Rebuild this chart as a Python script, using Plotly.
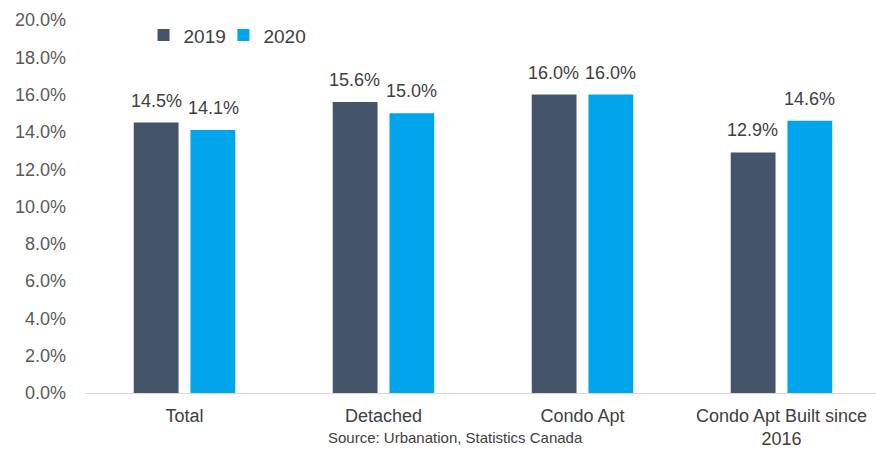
import plotly.graph_objects as go

categories = ["Total", "Detached", "Condo Apt", "Condo Apt Built since<br>2016"]
series_names = ["2019", "2020"]
values_2019 = [14.5, 15.6, 16.0, 12.9]
values_2020 = [14.1, 15.0, 16.0, 14.6]
tick_vals = [0, 2, 4, 6, 8, 10, 12, 14, 16, 18, 20]
tick_text = [f"{v:.1f}%" for v in tick_vals]

colors = ["#44546A", "#00A5EC"]
legend_ids = ["legend", "legend2"]
font_family = "Liberation Sans, Arial, sans-serif"
text_color = "#404040"

fig = go.Figure()
for name, vals, col, lg in zip(series_names, [values_2019, values_2020], colors, legend_ids):
    fig.add_trace(go.Bar(name=name, x=categories, y=vals, marker_color=col,
                         marker_line_width=0, legend=lg))

# value labels above each bar
for k, vals in enumerate([values_2019, values_2020]):
    shift = -28.5 if k == 0 else 28.5
    for c, v in zip(categories, vals):
        fig.add_annotation(x=c, y=v, text=f"{v:.1f}%", showarrow=False,
                           xshift=shift, yshift=10, yanchor="bottom",
                           font=dict(size=18, color=text_color, family=font_family))

fig.add_annotation(x=0.468, y=-0.148, xref="paper", yref="paper",
                   text="Source: Urbanation, Statistics Canada",
                   showarrow=False, yanchor="bottom",
                   font=dict(size=15, color=text_color, family=font_family))

legend_style = dict(orientation="h", y=1.01, xanchor="left", yanchor="top",
                    font=dict(size=19, color=text_color), bgcolor="rgba(0,0,0,0)",
                    itemwidth=30)

fig.update_layout(
    width=876, height=450,
    margin=dict(l=85, r=0, t=20, b=57),
    paper_bgcolor="white", plot_bgcolor="white",
    barmode="group", bargap=0.43, bargroupgap=0.21,
    font=dict(family=font_family, color=text_color),
    legend=dict(x=0.074, **legend_style),
    legend2=dict(x=0.175, **legend_style),
    showlegend=True,
)
fig.update_xaxes(range=[-0.5, 3.475], showline=True, linecolor="#D9D9D9",
                 linewidth=1, ticks="", tickfont=dict(size=18, color=text_color),
                 showgrid=False, ticklabelstandoff=6)
fig.update_yaxes(range=[0, 20], tickvals=tick_vals, ticktext=tick_text,
                 showgrid=False, zeroline=False, showline=False,
                 tickfont=dict(size=18, color="#595959"), ticklabelstandoff=18)

fig.write_html("out.html")
